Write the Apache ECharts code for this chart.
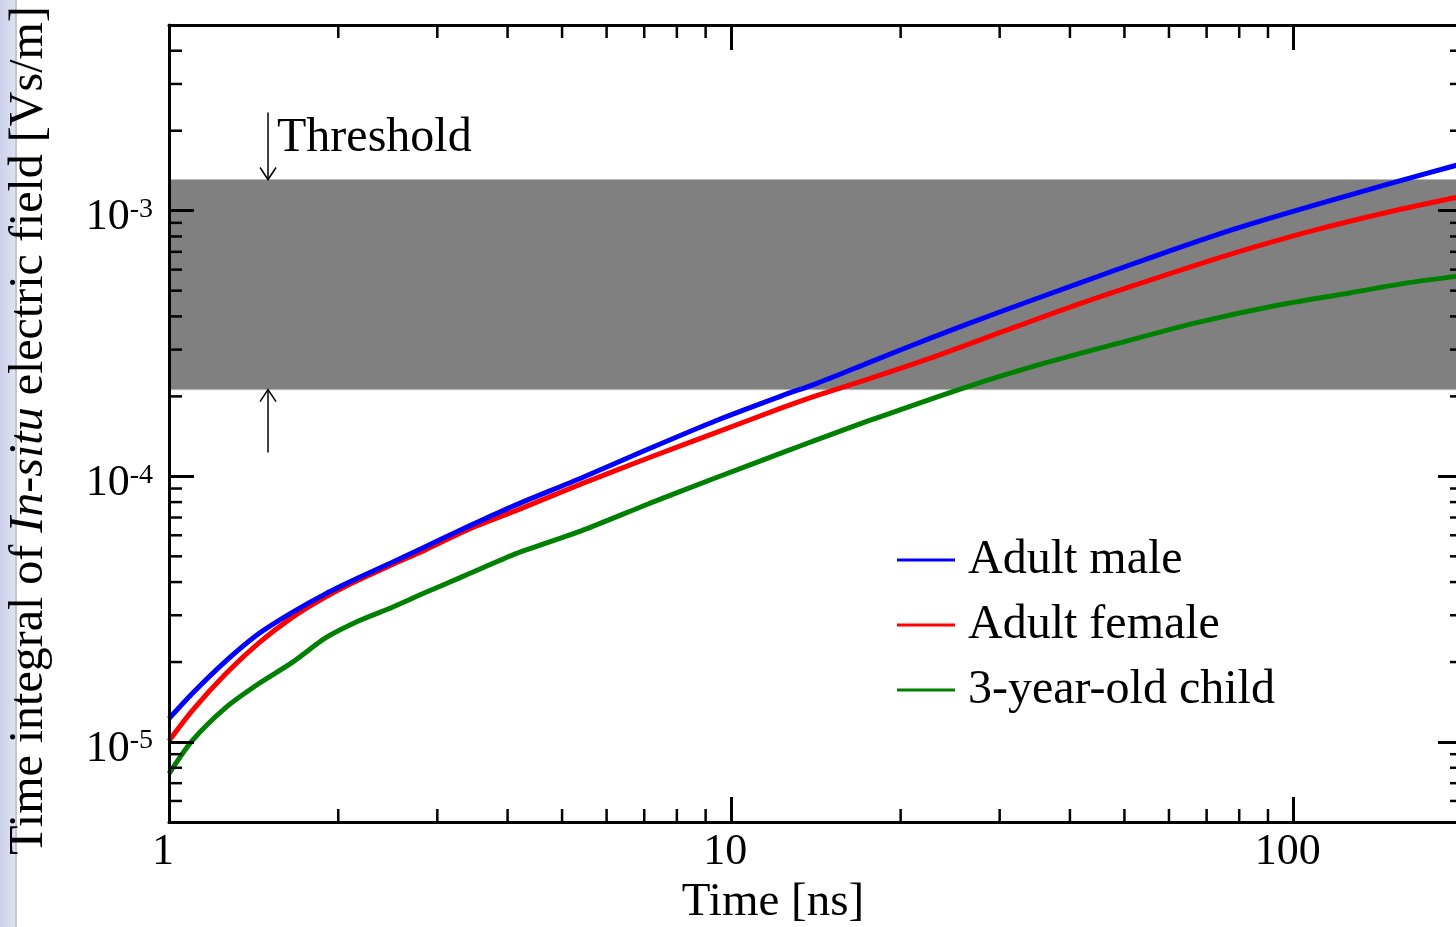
<!DOCTYPE html>
<html>
<head>
<meta charset="utf-8">
<script src="https://cdn.jsdelivr.net/npm/echarts@6/dist/echarts.min.js"></script>
<style>
html,body{margin:0;padding:0;background:#fff;}
#chart{width:1456px;height:927px;}
</style>
</head>
<body>
<div id="chart"></div>
<script>
// ---------------- data ----------------
const seriesNames = ['Adult male', 'Adult female', '3-year-old child'];

const maleTime   = [1.0, 1.099, 1.263, 1.445, 1.654, 1.901, 2.177, 2.491, 2.863, 3.279, 3.557, 4.14, 5.424, 7.134, 9.385, 12.29, 14.13, 17.56, 22.72, 30.51, 41.81, 57.31, 78.86, 108.1, 148.2, 193.3, 200];
const maleValue  = [1.225e-5, 1.52e-5, 2.02e-5, 2.56e-5, 3.07e-5, 3.62e-5, 4.16e-5, 4.74e-5, 5.45e-5, 6.24e-5, 6.76e-5, 7.81e-5, 9.88e-5, 1.27e-4, 1.62e-4, 2.01e-4, 2.23e-4, 2.68e-4, 3.33e-4, 4.21e-4, 5.36e-4, 6.81e-4, 8.56e-4, 1.045e-3, 1.264e-3, 1.476e-3, 1.50e-3];

const femaleTime  = [1.0, 1.099, 1.263, 1.445, 1.654, 1.901, 2.177, 2.491, 2.863, 3.279, 3.557, 4.14, 5.424, 7.134, 9.385, 12.29, 14.13, 17.56, 22.72, 30.51, 41.81, 57.31, 78.86, 108.1, 148.2, 193.3, 200];
const femaleValue = [1.01e-5, 1.31e-5, 1.81e-5, 2.36e-5, 2.94e-5, 3.52e-5, 4.08e-5, 4.65e-5, 5.30e-5, 6.08e-5, 6.56e-5, 7.43e-5, 9.39e-5, 1.175e-4, 1.46e-4, 1.81e-4, 2.01e-4, 2.33e-4, 2.80e-4, 3.52e-4, 4.48e-4, 5.60e-4, 6.95e-4, 8.41e-4, 9.91e-4, 1.119e-3, 1.133e-3];

const childTime  = [1.0, 1.099, 1.263, 1.445, 1.654, 1.901, 2.177, 2.491, 2.863, 3.279, 3.557, 4.14, 5.424, 7.134, 9.385, 12.29, 14.13, 17.56, 26.01, 35.65, 49.06, 67.24, 92.14, 126.3, 160.1, 193.3, 200];
const childValue = [7.6e-6, 1.01e-5, 1.35e-5, 1.66e-5, 1.99e-5, 2.47e-5, 2.86e-5, 3.21e-5, 3.66e-5, 4.14e-5, 4.46e-5, 5.12e-5, 6.25e-5, 7.89e-5, 9.88e-5, 1.225e-4, 1.37e-4, 1.62e-4, 2.16e-4, 2.65e-4, 3.18e-4, 3.79e-4, 4.38e-4, 4.91e-4, 5.36e-4, 5.65e-4, 5.69e-4];

// threshold band (lower, upper)
const thresholdBand = [2.12e-4, 1.31e-3];
// threshold arrows: [time, start value, end value]
const thresholdArrows = [[1.5, 2.34e-3, 1.31e-3], [1.5, 1.23e-4, 2.12e-4]];
const thresholdLabel = 'Threshold';

// axis ranges and ticks
const xMin = 1, xMax = 200;
const yMin = 5e-6, yMax = 5e-3;
const xMinorTicks = [2, 3, 4, 5, 6, 7, 8, 9, 20, 30, 40, 50, 60, 70, 80, 90];
const yMinorTicks = [6e-6, 7e-6, 8e-6, 9e-6,
  2e-5, 3e-5, 4e-5, 5e-5, 6e-5, 7e-5, 8e-5, 9e-5,
  2e-4, 3e-4, 4e-4, 5e-4, 6e-4, 7e-4, 8e-4, 9e-4,
  2e-3, 3e-3, 4e-3];
const xTitle = 'Time [ns]';
const yTitleParts = ['Time integral of ', 'In-situ', ' electric field [Vs/m]'];

// ---------------- chart ----------------
const FONT = '"Liberation Serif", "Times New Roman", serif';
const colors = ['#0000ff', '#ff0000', '#008000'];

function zip(a, b) { return a.map((v, i) => [v, b[i]]); }
function isPow10(v) {
  const l = Math.log10(v);
  return Math.abs(l - Math.round(l)) < 1e-6;
}

const chart = echarts.init(document.getElementById('chart'), null, { renderer: 'canvas' });

const axisLineStyle = { color: '#000', width: 3 };
const majorTick = { show: true, inside: true, length: 25, lineStyle: { color: '#000', width: 3 } };

function xAxisBase(pos) {
  return {
    type: 'log', logBase: 10, min: xMin, max: xMax, position: pos, gridIndex: 0, z: 5,
    axisLine: { show: true, onZero: false, lineStyle: axisLineStyle },
    axisTick: majorTick,
    minorTick: { show: false }, splitLine: { show: false }, minorSplitLine: { show: false },
    axisPointer: { show: false }
  };
}
function yAxisBase(pos) {
  return {
    type: 'log', logBase: 10, min: yMin, max: yMax, position: pos, gridIndex: 0, z: 5,
    axisLine: { show: true, onZero: false, lineStyle: axisLineStyle },
    axisTick: majorTick,
    minorTick: { show: false }, splitLine: { show: false }, minorSplitLine: { show: false },
    axisPointer: { show: false }
  };
}

const xBottom = Object.assign(xAxisBase('bottom'), {
  axisLabel: {
    show: true, margin: 8, color: '#000', fontFamily: FONT, fontSize: 44, lineHeight: 44,
    padding: [0, 12, 0, 0],
    formatter: v => isPow10(v) ? String(Math.round(v)) : ''
  },
  name: xTitle, nameLocation: 'middle', nameGap: 57,
  nameTextStyle: { color: '#000', fontFamily: FONT, fontSize: 47, lineHeight: 47, padding: [0, 86, 0, 0] }
});
const xTop = Object.assign(xAxisBase('top'), { axisLabel: { show: false } });

const yLeft = Object.assign(yAxisBase('left'), {
  axisLabel: {
    show: true, margin: 16, color: '#000', padding: [14, 0, 0, 0],
    formatter: v => isPow10(v) ? '{b|10}{s|' + Math.round(Math.log10(v)) + '}' : '',
    rich: {
      b: { fontFamily: FONT, fontSize: 44, lineHeight: 44, color: '#000' },
      s: { fontFamily: FONT, fontSize: 28, lineHeight: 28, color: '#000', verticalAlign: 'top' }
    }
  },
  name: '{n|' + yTitleParts[0] + '}{i|' + yTitleParts[1] + '}{n|' + yTitleParts[2] + '}',
  nameLocation: 'middle', nameGap: 116, nameRotate: 90,
  nameTextStyle: {
    color: '#000', fontFamily: FONT, fontSize: 48, lineHeight: 48, padding: [0, 14, 0, 0],
    rich: {
      n: { fontFamily: FONT, fontSize: 48, lineHeight: 48, color: '#000' },
      i: { fontFamily: FONT, fontSize: 48, lineHeight: 48, color: '#000', fontStyle: 'italic' }
    }
  }
});
const yRight = Object.assign(yAxisBase('right'), { axisLabel: { show: false } });

const minorStyle = { stroke: '#000', lineWidth: 2.5 };

const option = {
  animation: false,
  backgroundColor: '#fff',
  grid: { left: 169, top: 25, width: 1294, height: 797, containLabel: false, outerBoundsMode: 'none' },
  graphic: [
    { type: 'rect', left: 0, top: 0, z: -10, silent: true,
      shape: { width: 15, height: 927 },
      style: { fill: new echarts.graphic.LinearGradient(0, 0, 1, 0, [
        { offset: 0, color: '#cdd1ea' }, { offset: 1, color: '#dfe2f2' }]) } },
    { type: 'rect', left: 15, top: 0, z: -10, silent: true,
      shape: { width: 2, height: 927 }, style: { fill: '#c3c4cf' } }
  ],
  legend: {
    data: seriesNames, orient: 'vertical', left: 897, top: 536, padding: 0,
    itemWidth: 58, itemHeight: 3, itemGap: 17, icon: 'rect',
    textStyle: { color: '#000', fontFamily: FONT, fontSize: 48, lineHeight: 48, padding: [0, 0, 0, 8] },
    selectedMode: false
  },
  xAxis: [xBottom, xTop],
  yAxis: [yLeft, yRight],
  series: [
    {
      name: seriesNames[0], type: 'line', xAxisIndex: 0, yAxisIndex: 0,
      data: zip(maleTime, maleValue), showSymbol: false, smooth: 0.25, z: 4,
      lineStyle: { color: colors[0], width: 5 }, itemStyle: { color: colors[0] },
      markArea: {
        silent: true, z: 1,
        itemStyle: { color: '#808080', opacity: 1, borderColor: '#b8b8b8', borderWidth: 1 },
        data: [[{ yAxis: thresholdBand[0] }, { yAxis: thresholdBand[1] }]]
      }
    },
    {
      name: seriesNames[1], type: 'line', xAxisIndex: 0, yAxisIndex: 0,
      data: zip(femaleTime, femaleValue), showSymbol: false, smooth: 0.25, z: 3,
      lineStyle: { color: colors[1], width: 5 }, itemStyle: { color: colors[1] }
    },
    {
      name: seriesNames[2], type: 'line', xAxisIndex: 0, yAxisIndex: 0,
      data: zip(childTime, childValue), showSymbol: false, smooth: 0.25, z: 3,
      lineStyle: { color: colors[2], width: 5 }, itemStyle: { color: colors[2] }
    },
    {
      // minor ticks on x axes (bottom + top)
      type: 'custom', xAxisIndex: 0, yAxisIndex: 0, silent: true, z: 6,
      data: xMinorTicks.map(v => [v, yMin]),
      renderItem: (params, api) => {
        const x = api.coord([api.value(0), yMin])[0];
        const cs = params.coordSys;
        const yb = cs.y + cs.height, yt = cs.y;
        return { type: 'group', children: [
          { type: 'line', shape: { x1: x, y1: yb, x2: x, y2: yb - 13 }, style: minorStyle },
          { type: 'line', shape: { x1: x, y1: yt, x2: x, y2: yt + 13 }, style: minorStyle }
        ] };
      }
    },
    {
      // minor ticks on y axes (left + right)
      type: 'custom', xAxisIndex: 0, yAxisIndex: 0, silent: true, z: 6,
      data: yMinorTicks.map(v => [xMin, v]),
      renderItem: (params, api) => {
        const y = api.coord([xMin, api.value(1)])[1];
        const cs = params.coordSys;
        const xl = cs.x, xr = cs.x + cs.width;
        return { type: 'group', children: [
          { type: 'line', shape: { x1: xl, y1: y, x2: xl + 13, y2: y }, style: minorStyle },
          { type: 'line', shape: { x1: xr, y1: y, x2: xr - 13, y2: y }, style: minorStyle }
        ] };
      }
    },
    {
      // threshold arrows + label
      type: 'custom', xAxisIndex: 0, yAxisIndex: 0, silent: true, z: 7,
      data: thresholdArrows,
      renderItem: (params, api) => {
        const p0 = api.coord([api.value(0), api.value(1)]);
        const p1 = api.coord([api.value(0), api.value(2)]);
        const dir = p1[1] > p0[1] ? 1 : -1;
        const hw = 8, hh = 12;
        const st = { stroke: '#000', lineWidth: 1.5, fill: null };
        const children = [
          { type: 'line', shape: { x1: p0[0], y1: p0[1], x2: p1[0], y2: p1[1] }, style: st },
          { type: 'polyline', shape: { points: [[p1[0] - hw, p1[1] - dir * hh], [p1[0], p1[1]], [p1[0] + hw, p1[1] - dir * hh]] }, style: st }
        ];
        if (params.dataIndex === 0) {
          children.push({ type: 'text', x: p0[0] + 9, y: p0[1] + 26,
            style: { text: thresholdLabel, fontFamily: FONT, fontSize: 48, fill: '#000', align: 'left', verticalAlign: 'middle' } });
        }
        return { type: 'group', children: children };
      }
    }
  ]
};

chart.setOption(option);
</script>
</body>
</html>
